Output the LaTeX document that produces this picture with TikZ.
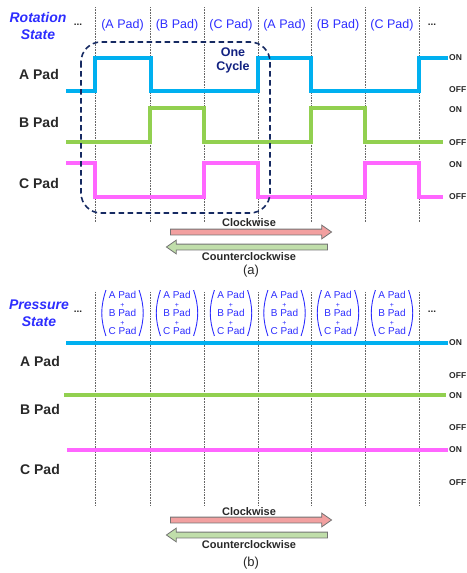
\documentclass[tikz,border=0pt]{standalone}
\usepackage{fontspec}
\setmainfont{Liberation Sans}
\usetikzlibrary{positioning,arrows.meta,shapes.arrows}
\definecolor{padcyan}{RGB}{0,176,240}
\definecolor{padgreen}{RGB}{146,208,80}
\definecolor{padpink}{RGB}{255,102,255}
\definecolor{cyclenavy}{RGB}{22,42,98}
\definecolor{labblue}{RGB}{45,45,255}
\definecolor{cwred}{RGB}{242,160,160}
\definecolor{ccwgreen}{RGB}{192,222,170}
\definecolor{txtgray}{RGB}{40,40,40}

\begin{document}
\begin{tikzpicture}[x=1pt,y=-1pt,
  trace/.style={line width=3.3pt},
  gridline/.style={gray!80!black,line width=0.6pt,dash pattern=on 0.8pt off 0.8pt},
  rowlab/.style={font=\bfseries\fontsize{14}{14}\selectfont,text=txtgray},
  statelab/.style={font=\bfseries\itshape\fontsize{14}{17}\selectfont,text=labblue,align=center},
  collab/.style={font=\fontsize{12.5}{12.5}\selectfont,text=labblue},
  onoff/.style={font=\bfseries\fontsize{8.5}{8.5}\selectfont,text=txtgray,anchor=west,inner sep=0pt},
  dots/.style={font=\bfseries\fontsize{10}{10}\selectfont,text=txtgray},
  stack/.style={font=\fontsize{10}{9}\selectfont,text=labblue,align=center,inner xsep=2.5pt,inner ysep=1pt},
  paren/.style={labblue,line width=0.9pt},
  blockarrow/.style={single arrow,draw=black!55,line width=0.8pt,minimum height=161pt,inner sep=2.5pt,
    single arrow head extend=4pt,single arrow tip angle=70},
  arrlab/.style={font=\bfseries\fontsize{11}{11}\selectfont,text=txtgray},
  caplab/.style={font=\fontsize{13}{13}\selectfont,text=txtgray}]
  \useasboundingbox (0,0) rectangle (466,573);

  % ---------- (a) rotation state ----------
  \foreach \x in {95,150,204,258,311,365,419} {\draw[gridline] (\x,7) -- (\x,222);}
  \node[statelab] (rot) at (38,26) {Rotation\\State};
  \node[dots] (dotsa1) at (78,25) {...};
  \node[dots] (dotsa2) at (432,25) {...};
  \foreach \x/\t [count=\i] in {122.5/A,177/B,231/C,284.5/A,338/B,392/C} {\node[collab] (col\i) at (\x,25) {(\t\ Pad)};}
  \node[rowlab] (rowA) at (39,74) {A Pad};
  \node[rowlab] (rowB) at (39,122) {B Pad};
  \node[rowlab] (rowC) at (39,183) {C Pad};
  % pad traces
  \draw[trace,padcyan] (66,91) -- (95,91) -- (95,58) -- (151,58) -- (151,91) -- (258,91) -- (258,58) -- (311,58) -- (311,91) -- (419,91) -- (419,58) -- (448,58);
  \draw[trace,padgreen] (66,142) -- (150,142) -- (150,108) -- (204,108) -- (204,142) -- (311,142) -- (311,108) -- (365,108) -- (365,142) -- (443,142);
  \draw[trace,padpink] (66,163) -- (95,163) -- (95,197) -- (204,197) -- (204,163) -- (258,163) -- (258,197) -- (365,197) -- (365,163) -- (419,163) -- (419,197) -- (443,197);
  \node[onoff] (onA) at (449,58) {ON};
  \node[onoff] (offA) at (449,90) {OFF};
  \node[onoff] (onB) at (449,110) {ON};
  \node[onoff] (offB) at (449,143) {OFF};
  \node[onoff] (onC) at (449,165) {ON};
  \node[onoff] (offC) at (449,197) {OFF};
  % one cycle
  \draw[cyclenavy,line width=1.6pt,dash pattern=on 5.5pt off 3.5pt,rounded corners=20pt] (81,42) rectangle (270,213);
  \node[font=\bfseries\fontsize{12.5}{14}\selectfont,text=cyclenavy!80!blue,align=center] (cyc) at (233,60) {One\\Cycle};
  % directions
  \node[blockarrow,fill=cwred] (cwa) at (249,232) {};
  \node[blockarrow,fill=ccwgreen,shape border rotate=180] (ccwa) at (249,247) {};
  \node[arrlab] (cwlaba) at (249,223) {Clockwise};
  \node[arrlab] (ccwlaba) at (249,256.5) {Counterclockwise};
  \node[caplab] (capa) at (251,271) {(a)};

  % ---------- (b) pressure state ----------
  \foreach \x in {95,150,204,258,311,365,419} {\draw[gridline] (\x,292) -- (\x,506);}
  \node[statelab] (pres) at (39,313) {Pressure\\State};
  \node[dots] (dotsb1) at (78,312) {...};
  \node[dots] (dotsb2) at (432,312) {...};
  \foreach \x [count=\i] in {122.5,177,231,284.5,338,392} {
    \node[stack] (st\i) at (\x,313) {A Pad\\{\fontsize{7}{9}\selectfont+}\\B Pad\\{\fontsize{7}{9}\selectfont+}\\C Pad};
    \draw[paren] (st\i.north west) to[bend right=18] (st\i.south west);
    \draw[paren] (st\i.north east) to[bend left=18] (st\i.south east);
  }
  \node[rowlab] (rowAb) at (40,361) {A Pad};
  \node[rowlab] (rowBb) at (40,409) {B Pad};
  \node[rowlab] (rowCb) at (40,469) {C Pad};
  \draw[trace,padcyan] (66,343) -- (448,343);
  \draw[trace,padgreen] (64,395) -- (446,395);
  \draw[trace,padpink] (67,450) -- (448,450);
  \node[onoff] (onAb) at (449,343) {ON};
  \node[onoff] (offAb) at (449,376) {OFF};
  \node[onoff] (onBb) at (449,396) {ON};
  \node[onoff] (offBb) at (449,428) {OFF};
  \node[onoff] (onCb) at (449,450) {ON};
  \node[onoff] (offCb) at (449,483) {OFF};
  % directions
  \node[blockarrow,fill=cwred] (cwb) at (249,520) {};
  \node[blockarrow,fill=ccwgreen,shape border rotate=180] (ccwb) at (249,535) {};
  \node[arrlab] (cwlabb) at (249,511.5) {Clockwise};
  \node[arrlab] (ccwlabb) at (249,544.5) {Counterclockwise};
  \node[caplab] (capb) at (251,563) {(b)};
\end{tikzpicture}
\end{document}
